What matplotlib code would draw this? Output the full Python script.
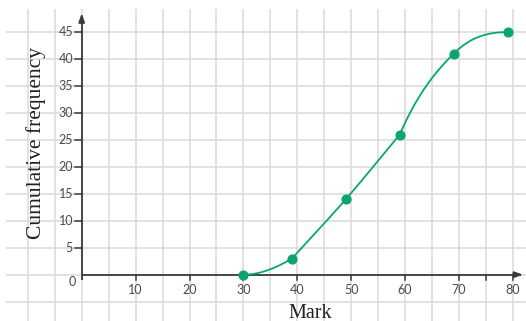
import numpy as np
import matplotlib
matplotlib.use("Agg")
import matplotlib.pyplot as plt

# Cumulative frequency table
marks = [30, 39, 49, 59, 69, 79]
cum_freq = [0, 3, 14, 26, 41, 45]
x_ticks = [10, 20, 30, 40, 50, 60, 70, 80]
y_ticks = [5, 10, 15, 20, 25, 30, 35, 40, 45]

# hand-drawn feel of the ogive: slope leaving / arriving at each point
slope_out = [0.0, 1.1, 1.15, 2.3, 1.0]
slope_in = [0.6, 1.15, 1.2, 1.0, 0.0]

GREEN = "#0ba572"
AXIS = "#3a3a3a"
GRID = "#dadada"
TICK_TXT = "#4a4a4a"


def hermite_path(x, y, m_out, m_in, n=80):
    xs, ys = [], []
    for k in range(len(x) - 1):
        h = x[k + 1] - x[k]
        t = np.linspace(0, 1, n)
        h00 = 2 * t**3 - 3 * t**2 + 1
        h10 = t**3 - 2 * t**2 + t
        h01 = -2 * t**3 + 3 * t**2
        h11 = t**3 - t**2
        xs.append(x[k] + t * h)
        ys.append(h00 * y[k] + h10 * h * m_out[k] + h01 * y[k + 1] + h11 * h * m_in[k])
    return np.concatenate(xs), np.concatenate(ys)


W, H = 526, 321
fig = plt.figure(figsize=(W / 100, H / 100), dpi=100)
ax = fig.add_axes([0, 0, 1, 1])
ax.set_xlim(-15.16, 82.43)
ax.set_ylim(-8.59, 50.96)
ax.axis("off")

# graph-paper grid
grid_x = np.arange(-10, 85, 5)
grid_y = np.arange(-5, 50, 5)
ax.vlines(grid_x, -8.59, 49.3, colors=GRID, lw=1.1, zorder=1)
ax.hlines(grid_y, -14.0, 82.43, colors=GRID, lw=1.1, zorder=1)

# axes with arrowheads
ax.plot([0, 0], [-0.9, 48.0], color=AXIS, lw=1.3, zorder=3, solid_capstyle="butt")
ax.plot([0, 81.5], [0, 0], color=AXIS, lw=1.3, zorder=3, solid_capstyle="butt")
ax.annotate("", xy=(0, 49.0), xytext=(0, 46.5),
            arrowprops=dict(arrowstyle="-|>,head_length=0.5,head_width=0.18",
                            color=AXIS, lw=1.3), zorder=4)
ax.annotate("", xy=(82.4, 0), xytext=(79.5, 0),
            arrowprops=dict(arrowstyle="-|>,head_length=0.5,head_width=0.18",
                            color=AXIS, lw=1.3), zorder=4)

# tick marks and labels
for xv in x_ticks + [75]:
    ax.plot([xv, xv], [0, -0.95], color=AXIS, lw=1.1, zorder=3)
for xv in x_ticks:
    ax.text(xv, -2.9, str(xv), ha="center", va="center", fontsize=9,
            family="Lato", color=TICK_TXT)
for yv in y_ticks:
    ax.plot([-1.3, 0], [yv, yv], color=AXIS, lw=1.1, zorder=3)
    ax.text(-1.6, yv, str(yv), ha="right", va="center", fontsize=9,
            family="Lato", color=TICK_TXT)
ax.text(-1.7, -1.4, "0", ha="center", va="center", fontsize=9,
        family="Lato", color=TICK_TXT)

# ogive
cx, cy = hermite_path(marks, cum_freq, slope_out, slope_in)
ax.plot(cx, cy, color=GREEN, lw=1.3, zorder=5)
ax.plot(marks, cum_freq, "o", color=GREEN, ms=6.3, zorder=6)

fig.text(310 / W, 1 - 313 / H, "Mark", ha="center", va="center",
         fontsize=14.5, family="Liberation Serif", color="#222222")
fig.text(36 / W, 1 - 143 / H, "Cumulative frequency", ha="center", va="center",
         rotation=90, fontsize=15.5, family="Liberation Serif", color="#222222")

fig.savefig("out.png", dpi=100)
